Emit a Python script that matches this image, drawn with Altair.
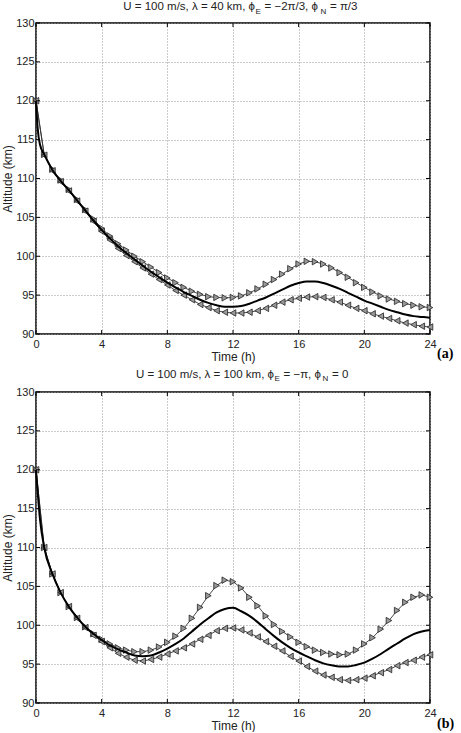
import altair as alt
import pandas as pd

# ---------------- data ----------------
T = [0, 0.5, 1, 1.5, 2, 2.5, 3, 3.5, 4, 4.5, 5, 5.5, 6, 6.5, 7, 7.5, 8, 8.5, 9, 9.5,
     10, 10.5, 11, 11.5, 12, 12.5, 13, 13.5, 14, 14.5, 15, 15.5, 16, 16.5, 17, 17.5,
     18, 18.5, 19, 19.5, 20, 20.5, 21, 21.5, 22, 22.5, 23, 23.5, 24]

# panel (a)
A_UP = [120, 113.1, 111.2, 109.8, 108.6, 107.3, 106.0, 104.8, 103.6, 102.6,
        101.6, 100.8, 100.0, 99.3, 98.6, 97.9, 97.2, 96.6, 96.0, 95.5,
        95.1, 94.8, 94.7, 94.65, 94.7, 94.9, 95.3, 95.8, 96.4, 97.0,
        97.7, 98.4, 99.0, 99.35, 99.3, 99.0, 98.5, 97.9, 97.3, 96.6,
        96.0, 95.4, 94.9, 94.5, 94.2, 93.9, 93.7, 93.5, 93.4]
A_LO = [120, 113.0, 111.0, 109.6, 108.4, 107.1, 105.8, 104.5, 103.2, 102.1,
        101.0, 100.1, 99.3, 98.5, 97.7, 97.0, 96.3, 95.6, 95.0, 94.4,
        93.8, 93.4, 93.0, 92.8, 92.7, 92.7, 92.8, 93.0, 93.3, 93.7,
        94.1, 94.4, 94.6, 94.75, 94.8, 94.7, 94.4, 94.1, 93.7, 93.3,
        93.0, 92.6, 92.3, 92.0, 91.7, 91.4, 91.2, 91.0, 90.9]
A_MEAN_T = [0, 0.1, 0.25, 0.5, 1, 1.5, 2, 2.5, 3, 3.5, 4, 4.5, 5, 5.5, 6, 6.5, 7, 7.5,
            8, 8.5, 9, 9.5, 10, 10.5, 11, 11.5, 12, 12.5, 13, 13.5, 14, 14.5, 15, 15.5,
            16, 16.5, 17, 17.5, 18, 18.5, 19, 19.5, 20, 20.5, 21, 21.5, 22, 22.5, 23,
            23.5, 24]
A_MEAN = [120, 116.5, 114.3, 113.1, 111.1, 109.7, 108.5, 107.2, 105.9, 104.6, 103.4,
          102.3, 101.3, 100.4, 99.6, 98.8, 98.0, 97.3, 96.6, 96.0, 95.4, 94.9, 94.4,
          94.0, 93.7, 93.5, 93.5, 93.6, 93.9, 94.3, 94.7, 95.2, 95.7, 96.2, 96.55,
          96.75, 96.75, 96.55, 96.2, 95.8, 95.3, 94.8, 94.3, 93.9, 93.5, 93.1, 92.8,
          92.5, 92.3, 92.2, 92.1]

# panel (b)
B_UP = [120, 110.0, 106.6, 104.2, 102.4, 101.0, 99.8, 98.9, 98.2, 97.6,
        97.1, 96.8, 96.6, 96.6, 96.8, 97.2, 97.8, 98.6, 99.6, 100.9,
        102.3, 103.8, 105.1, 105.8, 105.6, 104.8, 103.6, 102.5, 101.2, 100.1,
        99.2, 98.5, 97.8, 97.25, 96.8, 96.5, 96.3, 96.2, 96.3, 96.8,
        97.6, 98.4, 99.5, 100.6, 101.9, 102.95, 103.6, 103.9, 103.6]
B_LO = [120, 110.0, 106.6, 104.2, 102.4, 100.9, 99.7, 98.7, 97.9, 97.1,
        96.4, 95.9, 95.5, 95.4, 95.6, 95.9, 96.3, 96.7, 97.1, 97.6,
        98.2, 98.7, 99.3, 99.6, 99.65, 99.4, 99.0, 98.5, 97.9, 97.3,
        96.7, 96.0, 95.4, 94.7, 94.1, 93.6, 93.3, 93.0, 92.9, 93.0,
        93.2, 93.5, 93.9, 94.3, 94.8, 95.2, 95.5, 95.9, 96.2]
B_MEAN_T = [0, 0.25, 0.5, 1, 1.5, 2, 2.5, 3, 3.5, 4, 4.5, 5, 5.5, 6, 6.5, 7, 7.5,
            8, 8.5, 9, 9.5, 10, 10.5, 11, 11.5, 12, 12.5, 13, 13.5, 14, 14.5, 15, 15.5,
            16, 16.5, 17, 17.5, 18, 18.5, 19, 19.5, 20, 20.5, 21, 21.5, 22, 22.5, 23,
            23.5, 24]
B_MEAN = [120, 113.5, 110.0, 106.6, 104.2, 102.4, 101.0, 99.8, 98.9, 98.1, 97.4,
          96.9, 96.5, 96.1, 96.0, 96.1, 96.5, 97.0, 97.6, 98.3, 99.2, 100.1, 100.9,
          101.65, 102.1, 102.25, 101.8, 101.2, 100.4, 99.5, 98.6, 97.8, 97.1, 96.5,
          96.0, 95.5, 95.1, 94.85, 94.7, 94.7, 94.9, 95.2, 95.7, 96.3, 97.0, 97.65,
          98.3, 98.85, 99.2, 99.4]

X_TICKS = [0, 4, 8, 12, 16, 20, 24]
Y_TICKS = [90, 95, 100, 105, 110, 115, 120, 125, 130]

TITLE_A = ["U = 100 m/s, \u03bb = 40 km, \u03d5", "E", "= \u22122\u03c0/3, \u03d5", "N", "= \u03c0/3"]
TITLE_B = ["U = 100 m/s, \u03bb = 100 km, \u03d5", "E", "= \u2212\u03c0, \u03d5", "N", "= 0"]

# ---------------- styling ----------------
W, H = 394, 311
FONT = "Liberation Sans"
TXT = "#222222"

xscale = alt.Scale(domain=[0, 24], nice=False, zero=False)
yscale = alt.Scale(domain=[90, 130], nice=False, zero=False)

X = alt.X("t:Q", scale=xscale,
          axis=alt.Axis(values=X_TICKS, title="Time (h)", grid=True, gridDash=[1, 2],
                        gridColor="#999999", gridWidth=1, domain=False, ticks=False,
                        labelFlush=False, labelPadding=4, labelFontSize=11,
                        labelFont=FONT, labelColor=TXT, titleFont=FONT,
                        titleFontSize=12, titleFontWeight="normal", titleColor=TXT,
                        titlePadding=2))
Y = alt.Y("alt:Q", scale=yscale,
          axis=alt.Axis(values=Y_TICKS, title="Altitude (km)", grid=True, gridDash=[1, 2],
                        gridColor="#999999", gridWidth=1, domain=False, ticks=False,
                        labelFlush=False, labelPadding=2, labelFontSize=11,
                        labelFont=FONT, labelColor=TXT, titleFont=FONT,
                        titleFontSize=12, titleFontWeight="normal", titleColor=TXT,
                        titlePadding=1))

DUMMY = pd.DataFrame({"d": [0]})


def text_piece(s, x, y, size, align):
    return alt.Chart(DUMMY).mark_text(
        text=s, font=FONT, fontSize=size, color=TXT, align=align, baseline="alphabetic"
    ).encode(x=alt.value(x), y=alt.value(y))


def panel(up, lo, mean_t, mean, title, xpos, ty, sy, tag, tag_y):
    tri = pd.DataFrame({"t": T + T, "alt": up + lo,
                        "s": ["up"] * len(T) + ["lo"] * len(T)})
    df_up = pd.DataFrame({"t": T, "alt": up})
    df_lo = pd.DataFrame({"t": T, "alt": lo})
    df_mean = pd.DataFrame({"t": mean_t, "alt": mean})
    xt = pd.DataFrame({"t": X_TICKS})
    yt = pd.DataFrame({"alt": Y_TICKS})

    thin = alt.Chart(tri).mark_line(color="#333333", strokeWidth=0.9).encode(
        x=X, y=Y, detail="s:N")
    m_up = alt.Chart(df_up).mark_point(shape="triangle-right", size=42, filled=True,
                                       fill="#9a9a9a", stroke="#222222",
                                       strokeWidth=0.8, opacity=1).encode(x=X, y=Y)
    m_lo = alt.Chart(df_lo).mark_point(shape="triangle-left", size=42, filled=True,
                                       fill="#9a9a9a", stroke="#222222",
                                       strokeWidth=0.8, opacity=1).encode(x=X, y=Y)
    mline = alt.Chart(df_mean).mark_line(color="black", strokeWidth=2,
                                         interpolate="monotone").encode(x=X, y=Y)

    tk_top = alt.Chart(xt).mark_rule(color="black", strokeWidth=1).encode(
        x=X, y=alt.value(0), y2=alt.value(4))
    tk_bot = alt.Chart(xt).mark_rule(color="black", strokeWidth=1).encode(
        x=X, y=alt.value(H - 4), y2=alt.value(H))
    tk_l = alt.Chart(yt).mark_rule(color="black", strokeWidth=1).encode(
        y=Y, x=alt.value(0), x2=alt.value(4))
    tk_r = alt.Chart(yt).mark_rule(color="black", strokeWidth=1).encode(
        y=Y, x=alt.value(W - 4), x2=alt.value(W))

    s1, e, s2, n, s3 = title
    x1, xe, x2, xn, x3 = xpos
    texts = [
        text_piece(s1, x1, ty, 11.5, "right"),
        text_piece(e, xe, sy, 8, "left"),
        text_piece(s2, x2, ty, 11.5, "left"),
        text_piece(n, xn, sy, 8, "left"),
        text_piece(s3, x3, ty, 11.5, "left"),
    ]
    tagmark = alt.Chart(DUMMY).mark_text(
        text=tag, font="Liberation Serif", fontSize=14, fontWeight="bold",
        color="black", align="left", baseline="alphabetic"
    ).encode(x=alt.value(401), y=alt.value(tag_y))

    return alt.layer(thin, m_up, m_lo, mline, tk_top, tk_bot, tk_l, tk_r,
                     *texts, tagmark).properties(width=W, height=H)


top = panel(A_UP, A_LO, A_MEAN_T, A_MEAN, TITLE_A,
            (219, 219.5, 228.5, 284.5, 294), -12.7, -9.3, "(a)", 335)
bottom = panel(B_UP, B_LO, B_MEAN_T, B_MEAN, TITLE_B,
               (238, 238.5, 247.5, 286.5, 296), -14.3, -11, "(b)", 336)

chart = alt.vconcat(top, bottom, spacing=4).properties(
    padding={"left": 0, "top": 0, "right": 0, "bottom": 0},
    background="white",
).configure_view(stroke="black", strokeWidth=1.5)

chart.save("out.html", embed_options={"renderer": "svg", "actions": False})
